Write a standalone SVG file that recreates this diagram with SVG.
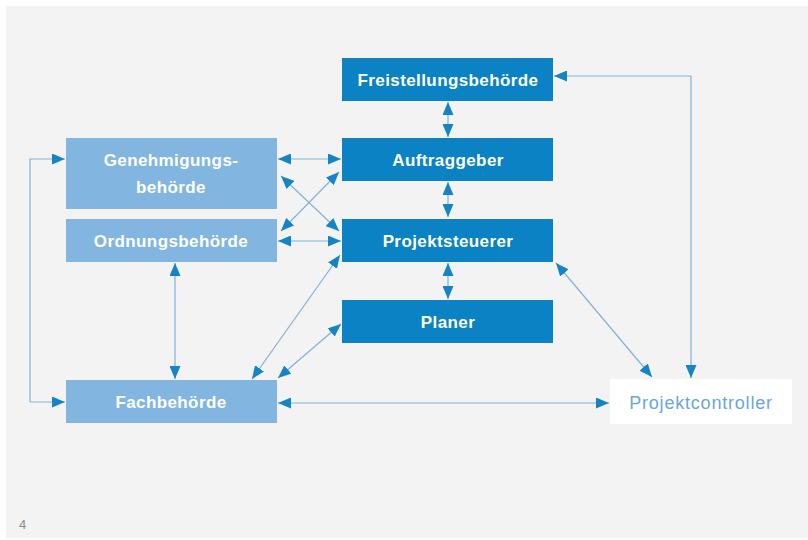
<svg xmlns="http://www.w3.org/2000/svg" width="808" height="540" viewBox="0 0 808 540">
<style>
.dark{fill:#0a82c3}
.light{fill:#82b6e0}
.wt{fill:#ffffff;font-family:"Liberation Sans",Arial,sans-serif;font-weight:bold;font-size:17px;letter-spacing:0.4px;text-anchor:middle}
.ct{fill:#6aa6d8;font-family:"Liberation Sans",Arial,sans-serif;font-size:18px;letter-spacing:0.8px;text-anchor:middle}
.ln{stroke:#7eb3de;stroke-width:1.2;fill:none}
.ar{marker-end:url(#ah)}
.ar2{marker-start:url(#ah);marker-end:url(#ah)}
</style>
<defs>
<marker id="ah" markerUnits="userSpaceOnUse" markerWidth="13" markerHeight="11" refX="13" refY="5.5" orient="auto-start-reverse" viewBox="0 0 13 11">
<path d="M0,0 L13,5.5 L0,11 z" fill="#1584c6"/>
</marker>
</defs>
<rect x="0" y="0" width="808" height="540" fill="#ffffff"/>
<rect x="6" y="6" width="802" height="532" fill="#f3f3f3"/>

<g id="connectors">
<line class="ln ar2" x1="448" y1="102" x2="448" y2="137"/>
<line class="ln ar2" x1="448" y1="182" x2="448" y2="217"/>
<line class="ln ar2" x1="448" y1="263" x2="448" y2="299"/>
<line class="ln ar2" x1="278" y1="159" x2="341" y2="159"/>
<line class="ln ar2" x1="278" y1="241" x2="341" y2="241"/>
<line class="ln ar2" x1="281" y1="176" x2="339" y2="231"/>
<line class="ln ar2" x1="339" y1="172" x2="281" y2="231"/>
<line class="ln ar2" x1="175" y1="263" x2="175" y2="379"/>
<line class="ln ar2" x1="252" y1="379" x2="340" y2="255"/>
<line class="ln ar2" x1="278" y1="378" x2="341" y2="324"/>
<line class="ln ar2" x1="278" y1="403" x2="609" y2="403"/>
<line class="ln ar2" x1="556" y1="263" x2="652" y2="377"/>
<polyline class="ln ar" points="691,76 691,378"/>
<line class="ln ar" x1="691" y1="76" x2="554" y2="76"/>
<polyline class="ln ar" points="30,402 30,159 65,159"/>
<line class="ln ar" x1="30" y1="402" x2="65" y2="402"/>
</g>

<g id="freistellungsbehoerde">
<rect class="dark" x="342" y="58" width="211" height="43"/>
<text class="wt" x="448" y="86">Freistellungsbehörde</text>
</g>
<g id="auftraggeber">
<rect class="dark" x="342" y="138" width="211" height="43"/>
<text class="wt" x="448" y="166">Auftraggeber</text>
</g>
<g id="projektsteuerer">
<rect class="dark" x="342" y="219" width="211" height="43"/>
<text class="wt" x="448" y="247">Projektsteuerer</text>
</g>
<g id="planer">
<rect class="dark" x="342" y="300" width="211" height="43"/>
<text class="wt" x="448" y="328">Planer</text>
</g>
<g id="genehmigungsbehoerde">
<rect class="light" x="66" y="138" width="211" height="71"/>
<text class="wt" x="171" y="166">Genehmigungs-</text>
<text class="wt" x="171" y="193">behörde</text>
</g>
<g id="ordnungsbehoerde">
<rect class="light" x="66" y="219" width="211" height="43"/>
<text class="wt" x="171" y="247">Ordnungsbehörde</text>
</g>
<g id="fachbehoerde">
<rect class="light" x="66" y="380" width="211" height="43"/>
<text class="wt" x="171" y="408">Fachbehörde</text>
</g>
<g id="projektcontroller">
<rect x="610" y="379" width="182" height="45" fill="#ffffff"/>
<text class="ct" x="701" y="409">Projektcontroller</text>
</g>
<text x="19" y="529" font-family="'Liberation Sans',Arial,sans-serif" font-size="13" fill="#8a8a8a">4</text>
</svg>
